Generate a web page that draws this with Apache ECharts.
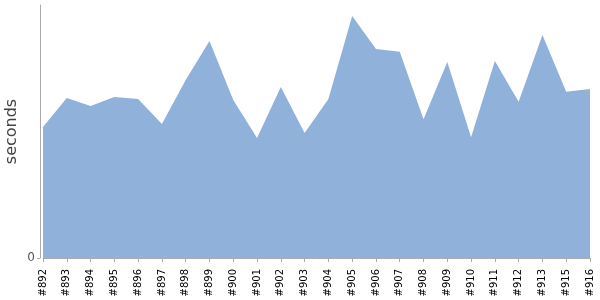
<!DOCTYPE html>
<html>
<head>
<meta charset="utf-8">
<script src="https://cdn.jsdelivr.net/npm/echarts@6/dist/echarts.min.js"></script>
<style>html,body{margin:0;padding:0;background:#fff}#c{width:600px;height:300px}</style>
</head>
<body>
<div id="c"></div>
<script>
var builds = ['#892','#893','#894','#895','#896','#897','#898','#899','#900','#901','#902','#903','#904','#905','#906','#907','#908','#909','#910','#911','#912','#913','#915','#916'];
var seconds = [51.8,63.2,60.1,63.6,62.8,53.0,70.4,85.8,62.5,47.4,67.6,49.4,62.8,95.7,82.6,81.5,54.8,77.5,47.7,77.9,61.8,88.1,65.7,66.8];
var yMax = 100;

var chart = echarts.init(document.getElementById('c'), null, {renderer:'canvas'});
chart.setOption({
  animation: false,
  grid: {left: 43, right: 10, top: 5, bottom: 42, containLabel: false, outerBoundsMode: 'none'},
  xAxis: {
    type: 'category', data: builds, boundaryGap: false, offset: 5,
    axisLine: {lineStyle: {color: '#aaa', width: 1}},
    axisTick: {show: true, length: 4, lineStyle: {color: '#aaa'}},
    axisLabel: {rotate: 90, fontSize: 10, color: '#000', margin: 6, interval: 0, fontFamily: 'DejaVu Sans'},
    splitLine: {show: false}
  },
  yAxis: {
    type: 'value', min: 0, max: yMax, interval: yMax, offset: 3,
    name: 'seconds', nameLocation: 'middle', nameGap: 20, nameRotate: 90, nameMoveOverlap: false,
    nameTextStyle: {fontSize: 16, color: '#444', fontFamily: 'DejaVu Sans'},
    axisLine: {show: true, lineStyle: {color: '#aaa', width: 1}},
    axisTick: {show: true, length: 3, customValues: [0], lineStyle: {color: '#aaa'}},
    axisLabel: {fontSize: 12, color: '#555', margin: 5, fontFamily: 'DejaVu Sans', customValues: [0],
      formatter: function (v) { return v === 0 ? '0' : ''; }},
    splitLine: {show: false}
  },
  series: [{
    type: 'line', data: seconds, symbol: 'none',
    lineStyle: {width: 0, color: '#8fb1da'},
    areaStyle: {color: '#8fb1da', opacity: 1}
  }]
});
</script>
</body>
</html>
